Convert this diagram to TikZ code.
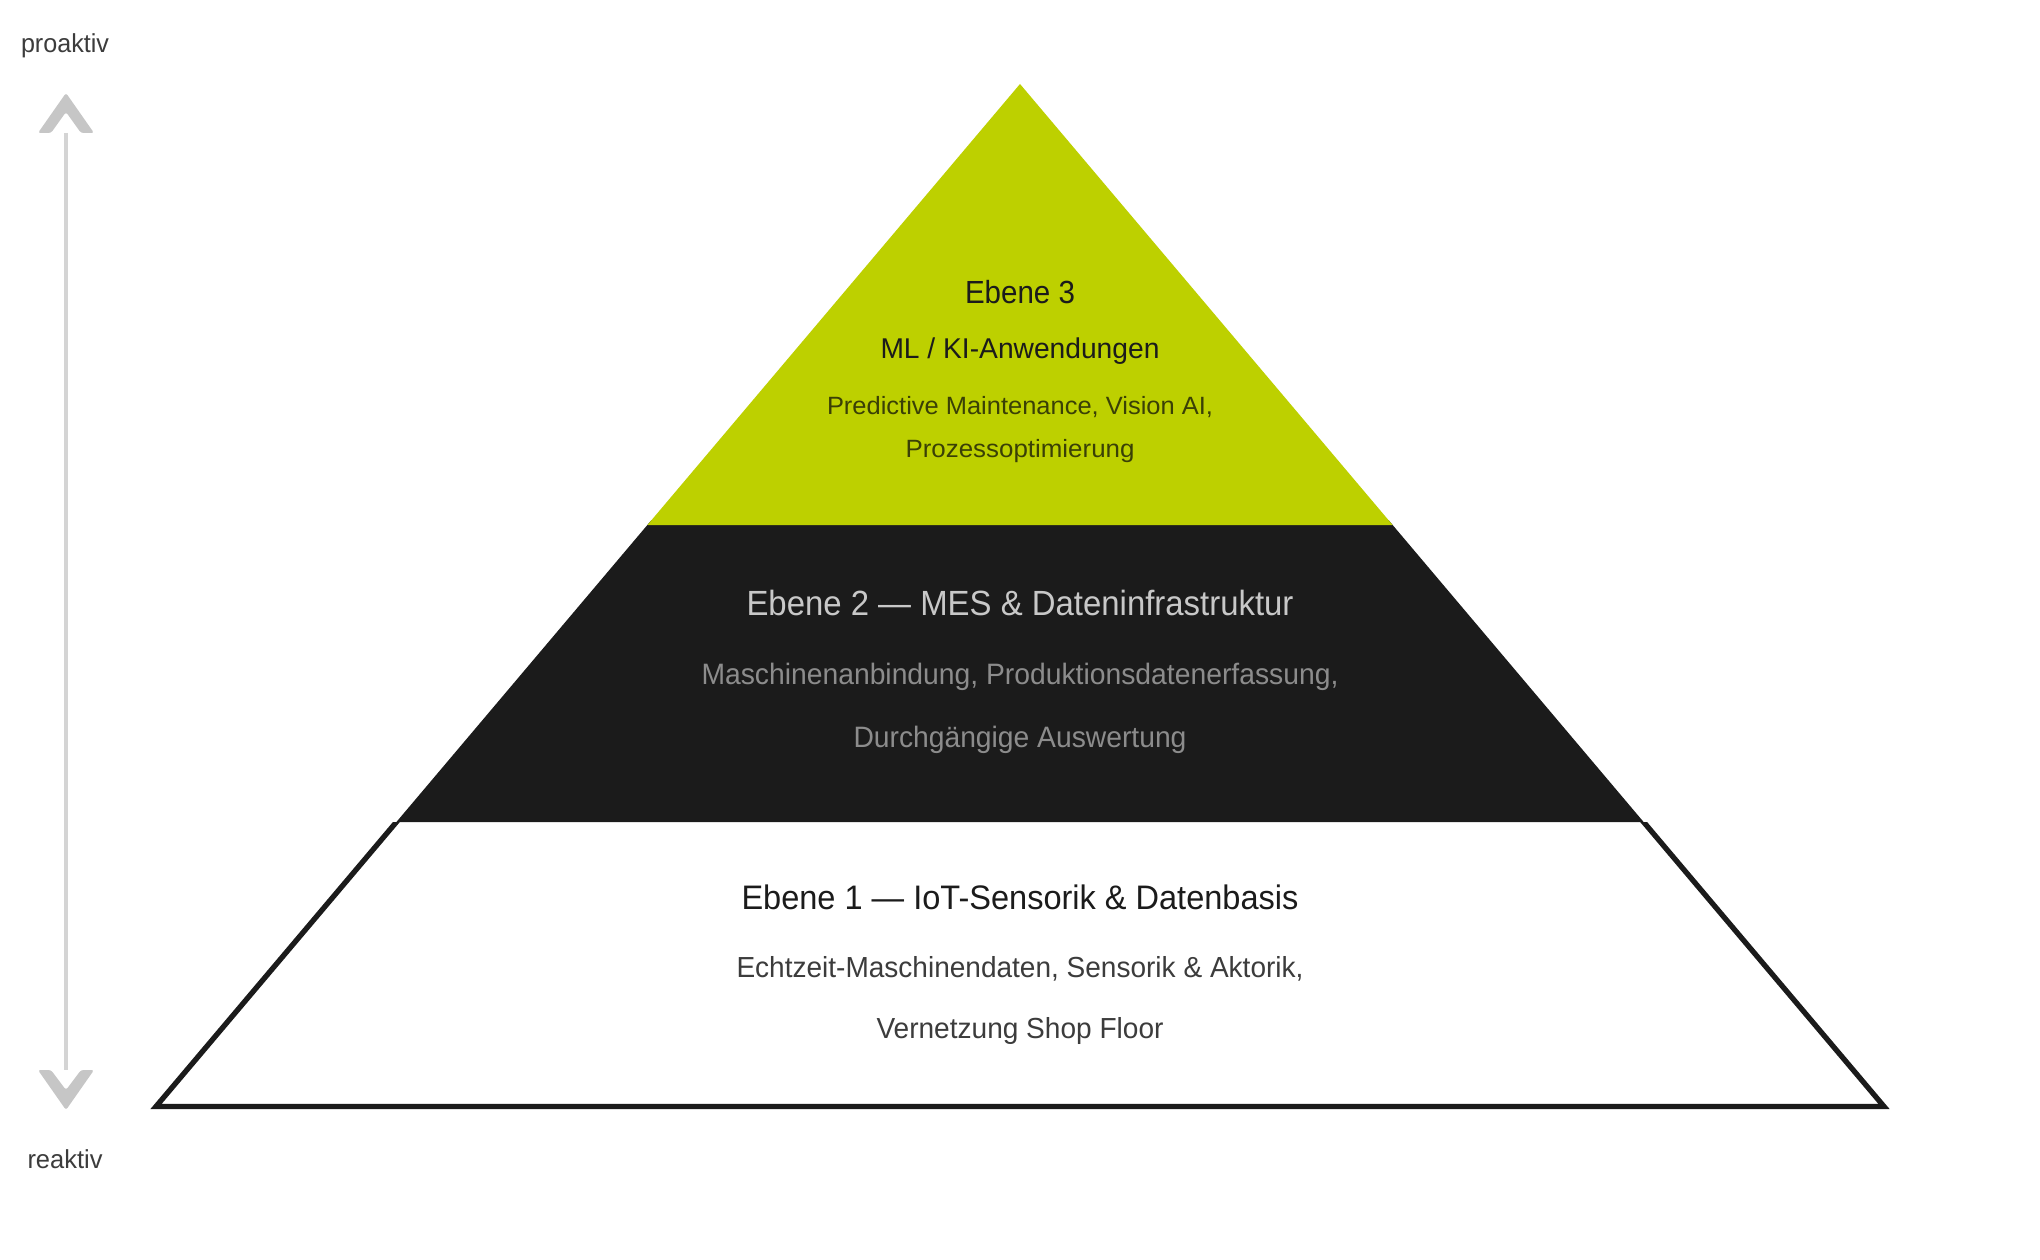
\documentclass[tikz,border=0pt]{standalone}
\usepackage{fontspec}
\setmainfont{Liberation Sans}
\usepackage{graphicx}
\newsavebox\fitbox
\newcommand\fitw[3]{\sbox\fitbox{\fontsize{#2}{#2}\selectfont #3}\pgfmathsetmacro\fitfac{#1/\the\wd\fitbox}\scalebox{\fitfac}[1]{\usebox\fitbox}}
\definecolor{pyrgreen}{RGB}{189,208,0}
\definecolor{pyrink}{RGB}{27,27,27}
\definecolor{pyrolive}{RGB}{58,64,6}
\definecolor{pyrlight}{RGB}{200,200,200}
\definecolor{pyrmid}{RGB}{140,140,140}
\definecolor{pyrtext}{RGB}{60,60,60}
\definecolor{pyrarrow}{RGB}{198,198,198}
\definecolor{pyrline}{RGB}{212,212,212}
\tikzset{
  lbl/.style={anchor=base, inner sep=0pt},
  chevron/.style={fill=pyrarrow, rounded corners=2.5pt},
}
\begin{document}
\begin{tikzpicture}[x=1pt,y=-1pt]
\path[fill=white,use as bounding box] (0,0) rectangle (2040,1260);
% pyramid geometry
\coordinate (apex) at (1020,84);
\coordinate (gl) at (647.4,525);
\coordinate (gr) at (1392.6,525);
\coordinate (dtl) at (651.6,520);
\coordinate (dtr) at (1388.4,520);
\coordinate (dl) at (396.4,822);
\coordinate (dr) at (1643.6,822);
\coordinate (sl) at (413.3,802);
\coordinate (sr) at (1626.7,802);
\coordinate (bl) at (156,1106.5);
\coordinate (br) at (1884,1106.5);
% level 1
\fill[white] (dl) -- (bl) -- (br) -- (dr) -- cycle;
\begin{scope}
\clip (0,822) rectangle (2040,1260);
\draw[pyrink, line width=5.3pt, line join=miter] (sl) -- (bl) -- (br) -- (sr);
\end{scope}
% level 2
\fill[pyrink] (dtl) -- (dtr) -- (dr) -- (dl) -- cycle;
% level 3
\fill[pyrgreen] (apex) -- (gr) -- (gl) -- cycle;
% axis arrow
\coordinate (atop) at (66,133);
\coordinate (abot) at (66,1070);
\draw[pyrline, line width=4.7pt] (atop) -- (abot);
\fill[chevron] (38,133) -- (66,93) -- (94,133) -- (81,133) -- (66,112) -- (51,133) -- cycle;
\fill[chevron] (38,1070) -- (51,1070) -- (66,1090) -- (81,1070) -- (94,1070) -- (66,1110) -- cycle;
\node[lbl, text=pyrtext] (pro) at (65,53) {\fitw{88}{26}{proaktiv}};
\node[lbl, text=pyrtext] (rea) at (65,1168) {\fitw{75}{26}{reaktiv}};
% level 3 texts
\node[lbl, text=pyrink] (e3) at (1020,303) {\fitw{110}{32}{Ebene 3}};
\node[lbl, text=pyrink] (e3t) at (1020,358) {\fitw{279}{28.6}{ML / KI-Anwendungen}};
\node[lbl, text=pyrolive] (e3a) at (1020,414) {\fitw{386}{25}{Predictive Maintenance, Vision AI,}};
\node[lbl, text=pyrolive] (e3b) at (1020,457) {\fitw{229}{25}{Prozessoptimierung}};
% level 2 texts
\node[lbl, text=pyrlight] (e2) at (1020,615) {\fitw{547}{35}{Ebene 2 — MES \& Dateninfrastruktur}};
\node[lbl, text=pyrmid] (e2a) at (1020,684) {\fitw{637}{29.5}{Maschinenanbindung, Produktionsdatenerfassung,}};
\node[lbl, text=pyrmid] (e2b) at (1020,747) {\fitw{333}{29.5}{Durchgängige Auswertung}};
% level 1 texts
\node[lbl, text=pyrink] (e1) at (1020,909) {\fitw{557}{34}{Ebene 1 — IoT-Sensorik \& Datenbasis}};
\node[lbl, text=pyrtext] (e1a) at (1020,977) {\fitw{567}{29}{Echtzeit-Maschinendaten, Sensorik \& Aktorik,}};
\node[lbl, text=pyrtext] (e1b) at (1020,1038) {\fitw{287}{29}{Vernetzung Shop Floor}};
\end{tikzpicture}
\end{document}
